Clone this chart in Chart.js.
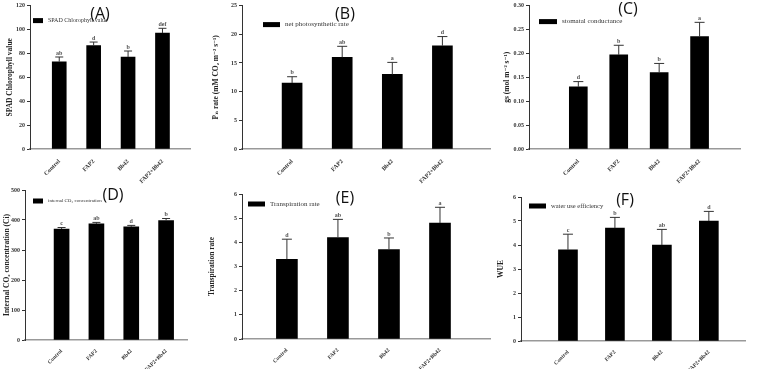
<!DOCTYPE html>
<html>
<head>
<meta charset="utf-8">
<script src="https://cdn.jsdelivr.net/npm/chart.js@4.4.1/dist/chart.umd.min.js"></script>
<style>
  body { margin: 0; background: #fff; }
  #wrap { position: relative; width: 759px; height: 369px; overflow: hidden; }
  .p { position: absolute; }
</style>
</head>
<body>
<div id="wrap">
  <div class="p" style="left:0;top:180px;width:200px;height:200px"><canvas id="pD"></canvas></div>
  <div class="p" style="left:200px;top:180px;width:295px;height:200px"><canvas id="pE"></canvas></div>
  <div class="p" style="left:492px;top:180px;width:267px;height:200px"><canvas id="pF"></canvas></div>
  <div class="p" style="left:0;top:0;width:200px;height:192px"><canvas id="pA"></canvas></div>
  <div class="p" style="left:200px;top:0;width:295px;height:192px"><canvas id="pB"></canvas></div>
  <div class="p" style="left:495px;top:0;width:264px;height:192px"><canvas id="pC"></canvas></div>
</div>
<script>
const treatments = ['Control', 'FAP2', 'Bb42', 'FAP2+Bb42']

// (A) SPAD
const spadValues = [73, 86.5, 77, 97]
const spadErrors = [4, 3, 5, 4]
const spadLetters = ['ab', 'd', 'b', 'def']

// (B) net photosynthetic rate
const pnValues = [11.5, 16, 13, 18]
const pnErrors = [1.1, 1.9, 2.1, 1.6]
const pnLetters = ['b', 'ab', 'a', 'd']

// (C) stomatal conductance
const gsValues = [0.13, 0.197, 0.16, 0.235]
const gsErrors = [0.011, 0.02, 0.019, 0.03]
const gsLetters = ['d', 'b', 'b', 'a']

// (D) internal CO2
const ciValues = [370, 387, 377, 398]
const ciErrors = [5, 5, 5, 7]
const ciLetters = ['c', 'ab', 'd', 'b']

// (E) transpiration
const trValues = [3.3, 4.2, 3.7, 4.8]
const trErrors = [0.83, 0.75, 0.48, 0.65]
const trLetters = ['d', 'ab', 'b', 'a']

// (F) WUE
const wueValues = [3.8, 4.7, 4.0, 5.0]
const wueErrors = [0.65, 0.45, 0.65, 0.4]
const wueLetters = ['c', 'b', 'ab', 'd']

const SERIF = '"Liberation Serif", "DejaVu Serif", serif'

// error bars, letters, small legend and the (A)..(F) tag
const extras = {
  id: 'extras',
  afterDatasetsDraw(chart, args, o) {
    const ctx = chart.ctx
    const a = chart.chartArea
    const y = chart.scales.y
    const ds = chart.data.datasets[0]
    const meta = chart.getDatasetMeta(0)
    ctx.save()
    ctx.strokeStyle = '#333'
    ctx.lineWidth = 1
    ctx.font = 'bold 6px ' + SERIF
    ctx.textAlign = 'center'
    ctx.textBaseline = 'bottom'
    meta.data.forEach((bar, i) => {
      const top = y.getPixelForValue(ds.data[i].y + o.errors[i])
      ctx.beginPath()
      ctx.moveTo(bar.x, bar.y)
      ctx.lineTo(bar.x, top)
      ctx.moveTo(bar.x - o.cap, top)
      ctx.lineTo(bar.x + o.cap, top)
      ctx.stroke()
      ctx.fillStyle = '#555'
      ctx.fillText(o.letters[i], bar.x, top - 1)
    })
    // legend
    const lx = a.left + o.legend[0], ly = a.top + o.legend[1]
    ctx.fillStyle = '#000'
    ctx.fillRect(lx, ly - 2.5, o.legend[2], 5)
    ctx.fillStyle = '#333'
    ctx.textAlign = 'left'
    ctx.textBaseline = 'middle'
    ctx.font = o.legend[3] + 'px ' + SERIF
    ctx.fillText(ds.label, lx + o.legend[2] + 5, ly)
    // panel tag
    ctx.fillStyle = '#111'
    ctx.textAlign = 'center'
    ctx.font = '16px "Open Sans", sans-serif'
    ctx.fillText(o.tag, o.tagPos[0], o.tagPos[1])
    ctx.restore()
  }
}

function panel(id, p) {
  new Chart(document.getElementById(id), {
    type: 'bar',
    data: {
      datasets: [{
        label: p.label,
        data: p.values.map((v, i) => ({ x: i + 1, y: v })),
        backgroundColor: '#000',
        barThickness: p.bar
      }]
    },
    plugins: [extras],
    options: {
      responsive: true,
      maintainAspectRatio: false,
      animation: false,
      layout: { padding: { top: p.top, right: p.right, left: 0, bottom: 0 } },
      plugins: {
        legend: { display: false },
        tooltip: { enabled: false },
        extras: {
          errors: p.errors, letters: p.letters, cap: p.cap,
          legend: p.legend, tag: p.tag, tagPos: p.tagPos
        }
      },
      scales: {
        x: {
          type: 'linear',
          offset: false,
          min: p.xmin, max: p.xmax,
          afterBuildTicks: s => { s.ticks = treatments.map((t, i) => ({ value: i + 1 })) },
          afterFit: s => { s.height = p.xh },
          grid: { display: false },
          border: { color: '#999', width: 1.5 },
          ticks: {
            autoSkip: false, minRotation: 45, maxRotation: 45, padding: p.xpad,
            color: '#333', font: { family: SERIF, size: p.xfont, weight: 'bold' },
            callback: v => treatments[v - 1] || ''
          }
        },
        y: {
          min: 0, max: p.ymax,
          afterFit: s => { s.width = p.yw },
          grid: { drawOnChartArea: false, tickLength: 3, color: '#333' },
          border: { color: '#333', width: 1 },
          ticks: {
            stepSize: p.step, padding: 2, color: '#333',
            font: { family: SERIF, size: 6, weight: 'bold' },
            callback: p.fmt || (v => v)
          },
          title: {
            display: true, text: p.ytitle, color: '#222',
            padding: { top: p.tpad, bottom: 0 },
            font: { family: SERIF, size: 7.5, weight: 'bold' }
          }
        }
      }
    }
  })
}

panel('pA', {
  label: 'SPAD Chlorophyll value', values: spadValues, errors: spadErrors, letters: spadLetters,
  ymax: 120, step: 20, ytitle: 'SPAD Chlorophyll value',
  yw: 30, tpad: 6, top: 5, right: 10, xh: 43, xpad: 1, xfont: 6,
  xmin: 0.15, xmax: 4.8, bar: 14, cap: 4,
  legend: [3, 15, 10, 6], tag: '(A)', tagPos: [100, 14]
})
panel('pB', {
  label: 'net photosynthetic rate', values: pnValues, errors: pnErrors, letters: pnLetters,
  ymax: 25, step: 5, ytitle: 'P\u2099 rate (mM CO\u2082 m\u207B\u00B2 s\u207B\u00B9)',
  yw: 42, tpad: 12, top: 5, right: 5, xh: 43, xpad: 1, xfont: 6,
  xmin: 0, xmax: 4.95, bar: 20, cap: 5,
  legend: [21, 19, 17, 7], tag: '(B)', tagPos: [145, 14]
})
panel('pC', {
  label: 'stomatal conductance', values: gsValues, errors: gsErrors, letters: gsLetters,
  ymax: 0.30, step: 0.05, ytitle: 'gs (mol m\u207B\u00B2 s\u207B\u00B9)', fmt: v => v.toFixed(2),
  yw: 34, tpad: 8, top: 5, right: 19, xh: 43, xpad: 1, xfont: 6,
  xmin: -0.22, xmax: 5.0, bar: 18, cap: 5,
  legend: [10, 16, 18, 7], tag: '(C)', tagPos: [133, 9]
})
panel('pD', {
  label: 'internal CO\u2082 concentration', values: ciValues, errors: ciErrors, letters: ciLetters,
  ymax: 500, step: 100, ytitle: 'Internal CO\u2082 concentration (Ci)',
  yw: 25, tpad: 3, top: 10, right: 13, xh: 40, xpad: 0, xfont: 5.5,
  xmin: -0.05, xmax: 4.6, bar: 15, cap: 4,
  legend: [8, 11, 10, 5], tag: '(D)', tagPos: [113, 15]
})
panel('pE', {
  label: 'Transpiration rate', values: trValues, errors: trErrors, letters: trLetters,
  ymax: 6, step: 1, ytitle: 'Transpiration rate',
  yw: 42, tpad: 8, top: 14, right: 5, xh: 41, xpad: 0, xfont: 5.5,
  xmin: 0.12, xmax: 4.98, bar: 21, cap: 5,
  legend: [6, 10, 17, 7], tag: '(E)', tagPos: [145, 18]
})
panel('pF', {
  label: 'water use efficiency', values: wueValues, errors: wueErrors, letters: wueLetters,
  ymax: 6, step: 1, ytitle: 'WUE',
  yw: 29, tpad: 5, top: 17, right: 14, xh: 39, xpad: 0, xfont: 5.5,
  xmin: 0, xmax: 4.77, bar: 19, cap: 5,
  legend: [8, 9, 17, 6.5], tag: '(F)', tagPos: [133, 20]
})
</script>
</body>
</html>
